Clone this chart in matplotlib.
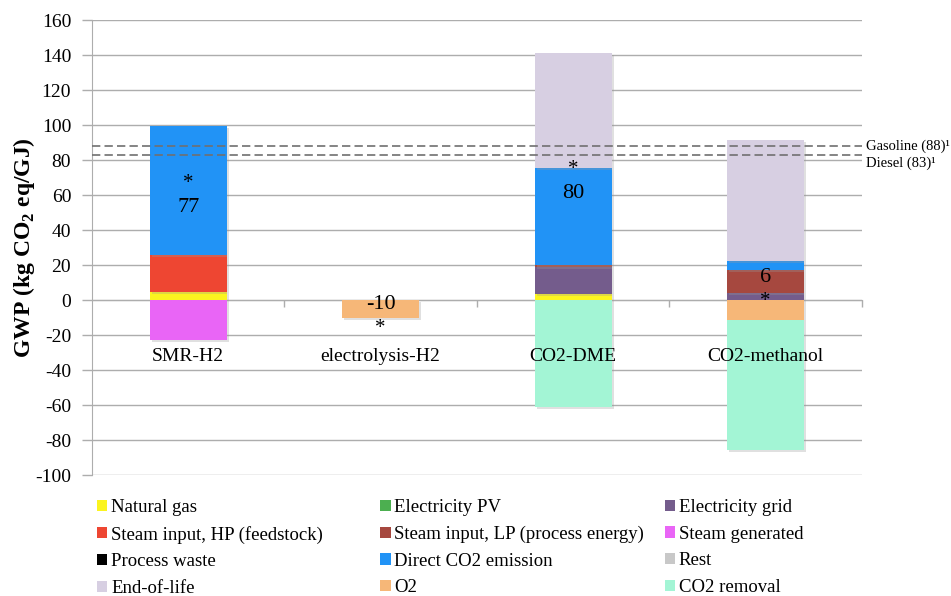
import matplotlib
matplotlib.use("Agg")
import matplotlib.pyplot as plt
from matplotlib.patches import Patch
import matplotlib.patheffects as pe
import numpy as np

plt.rcParams['font.family'] = ['Liberation Serif', 'DejaVu Serif']
plt.rcParams['mathtext.fontset'] = 'custom'
plt.rcParams['mathtext.rm'] = 'Liberation Serif'
plt.rcParams['mathtext.bf'] = 'Liberation Serif:bold'

categories = ['SMR-H2', 'electrolysis-H2', 'CO2-DME', 'CO2-methanol']

series_names = ['Natural gas', 'Electricity PV', 'Electricity grid',
                'Steam input, HP (feedstock)', 'Steam input, LP (process energy)', 'Steam generated',
                'Process waste', 'Direct CO2 emission', 'Rest',
                'End-of-life', 'O2', 'CO2 removal']
series_colors = ['#FBF41F', '#4CAF50', '#745C8C',
                 '#EE4632', '#A6483F', '#E965F6',
                 '#000000', '#2193F6', '#C8C8C8',
                 '#D7CFE2', '#F6B778', '#A3F5D5']

natural_gas = [4.6, 0, 3.5, 0]
electricity_pv = [0, 0, 0, 0]
electricity_grid = [0, 0, 15.5, 4]
steam_hp = [21, 0, 0, 0]
steam_lp = [0, 0, 1, 13.5]
steam_generated = [-23, 0, 0, 0]
process_waste = [0, 0, 0, 0]
direct_co2 = [74, 0, 55.5, 5]
rest = [0, 0, 0, 0]
end_of_life = [0, 0, 66, 69]
o2 = [0, -10.4, 0, -11.5]
co2_removal = [0, 0, -61, -74]

series_values = [natural_gas, electricity_pv, electricity_grid, steam_hp, steam_lp,
                 steam_generated, process_waste, direct_co2, rest, end_of_life, o2, co2_removal]

# annotations on bars
annot_cat = [0, 0, 1, 1, 2, 2, 3, 3]
annot_y = [66.5, 53, -2.5, -16, 74.5, 61, 13, -1]
annot_txt = ['*', '77', '-10', '*', '*', '80', '6', '*']

ref_values = [88, 83]
ref_labels = ['Gasoline (88)\u00b9', 'Diesel (83)\u00b9']
ref_label_offsets = [0, -6]

yticks = list(range(-100, 161, 20))
category_label_y = -32

fig = plt.figure(figsize=(9.51, 5.96), dpi=100)
ax = fig.add_axes([0.0967, 0.203, 0.8095, 0.763])

x = np.arange(len(categories))
pos_bottom = np.zeros(len(categories))
neg_bottom = np.zeros(len(categories))
shadow = [pe.SimplePatchShadow(offset=(1.5, -1.5), shadow_rgbFace='#999999', alpha=0.3), pe.Normal()]
for vals, col in zip(series_values, series_colors):
    v = np.array(vals, dtype=float)
    bottoms = np.where(v >= 0, pos_bottom, neg_bottom)
    bars = ax.bar(x, v, 0.4, bottom=bottoms, color=col, linewidth=0, zorder=3)
    for b in bars:
        if b.get_height() != 0:
            b.set_path_effects(shadow)
    pos_bottom = pos_bottom + np.where(v > 0, v, 0)
    neg_bottom = neg_bottom + np.where(v < 0, v, 0)

for c, yv, t in zip(annot_cat, annot_y, annot_txt):
    ax.text(x[c], yv, t, ha='center', va='center', fontsize=16 if t != '*' else 15,
            zorder=6, color='black')

for xi, cat in zip(x, categories):
    ax.text(xi, category_label_y, cat, ha='center', va='center', fontsize=14, zorder=6)

ax.set_xlim(-0.5, len(categories) - 0.5)
ax.set_ylim(-100, 160)
ax.set_yticks(yticks)
ax.set_yticklabels([str(t) for t in yticks], fontsize=14)
ax.yaxis.grid(True, color='#ADADAD', linewidth=1.0, zorder=0)
ax.set_axisbelow(True)

for sp in ['top', 'right']:
    ax.spines[sp].set_visible(False)
ax.spines['left'].set_color('#ADADAD')
ax.spines['bottom'].set_position(('data', 0))
ax.spines['bottom'].set_color('#ADADAD')

ax.tick_params(axis='y', length=7, width=1, color='#ADADAD', pad=8)
ax.set_xticks(x)
ax.set_xticklabels([])
ax.tick_params(axis='x', which='major', length=0)
ax.set_xticks(np.append(x[1:] - 0.5, x[-1] + 0.5), minor=True)
ax.tick_params(axis='x', which='minor', length=5, width=1, color='#ADADAD', direction='out')

for rv, rl, off in zip(ref_values, ref_labels, ref_label_offsets):
    ax.axhline(rv, color='#707070', linestyle=(0, (5, 2.5)), linewidth=1.2, zorder=4)
    ax.annotate(rl, xy=(1.0, rv), xycoords=ax.get_yaxis_transform(),
                xytext=(3, off), textcoords='offset points', ha='left', va='center',
                fontsize=10.5, annotation_clip=False)

ax.set_ylabel(r'GWP (kg CO$_{\mathbf{2}}$ eq/GJ)', fontsize=17, fontweight='bold')
ax.yaxis.set_label_coords(-0.072, 0.5)

handles = [Patch(facecolor=c, edgecolor='none') for c in series_colors]
col_x = [0.102, 0.400, 0.699]
for ci in range(3):
    idx = [ci + 3 * r for r in range(4)]
    fig.legend([handles[i] for i in idx], [series_names[i] for i in idx],
               loc='upper left', bbox_to_anchor=(col_x[ci], 0.163), frameon=False,
               fontsize=13.5, handlelength=0.55, handleheight=0.55, handletextpad=0.2,
               labelspacing=0.52, borderaxespad=0, borderpad=0)

fig.savefig('out.png', dpi=100)
